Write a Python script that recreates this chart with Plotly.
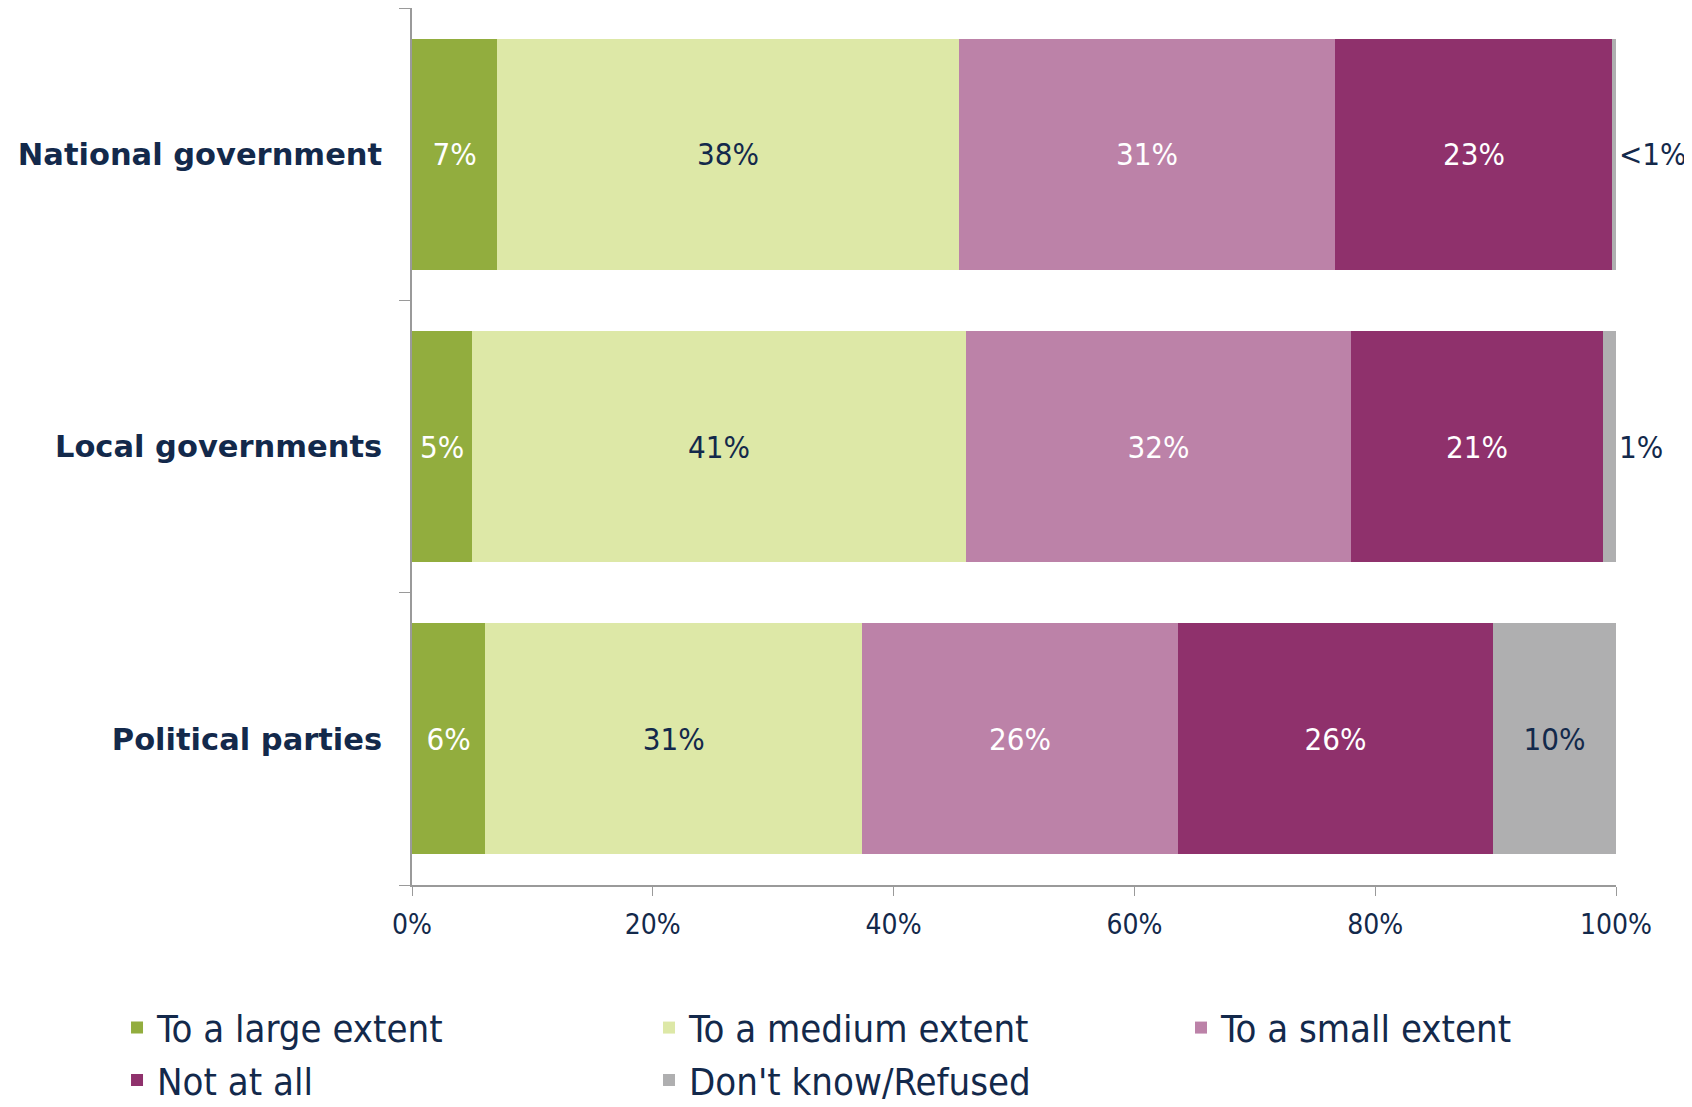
import plotly.graph_objects as go

categories = ["National government", "Local governments", "Political parties"]
series_names = ["To a large extent", "To a medium extent", "To a small extent",
                "Not at all", "Don't know/Refused"]
colors = ["#92AD3E", "#DDE8A7", "#BC82A8", "#8F316C", "#AFAFB0"]
text_colors = ["white", "#13294B", "white", "white", "#13294B"]

large = [7.1, 5.0, 6.1]
medium = [38.3, 41.0, 31.3]
small = [31.3, 32.0, 26.2]
not_at_all = [23.0, 20.9, 26.2]
dont_know = [0.3, 1.1, 10.2]

large_lbl = ["7%", "5%", "6%"]
medium_lbl = ["38%", "41%", "31%"]
small_lbl = ["31%", "32%", "26%"]
not_at_all_lbl = ["23%", "21%", "26%"]
dont_know_lbl = ["<1%", "1%", "10%"]

x_ticks = [0, 20, 40, 60, 80, 100]
x_tick_text = ["0%", "20%", "40%", "60%", "80%", "100%"]

values = [large, medium, small, not_at_all, dont_know]
labels = [large_lbl, medium_lbl, small_lbl, not_at_all_lbl, dont_know_lbl]

navy = "#13294B"
narrow = "DejaVu Sans Condensed, DejaVu Sans, sans-serif"

fig = go.Figure()
for i, name in enumerate(series_names):
    is_last = i == len(series_names) - 1
    fig.add_trace(go.Bar(
        y=categories,
        x=values[i],
        orientation="h",
        name=name,
        marker=dict(color=colors[i], line=dict(width=0)),
        text=labels[i],
        # tiny "don't know" shares get their label past the end of the bar
        textposition=["outside", "outside", "inside"] if is_last else "inside",
        insidetextanchor="middle",
        constraintext="none",
        cliponaxis=False,
        insidetextfont=dict(color=text_colors[i], size=31, family=narrow),
        outsidetextfont=dict(color=navy, size=31, family=narrow),
        hoverinfo="skip",
    ))

# the page body adds 8px around the figure, so the figure is 8px smaller
fig.update_layout(
    barmode="stack",
    bargap=0.21,
    width=1684,
    height=1099,
    margin=dict(l=404, r=76, t=0, b=222, autoexpand=False),
    plot_bgcolor="white",
    paper_bgcolor="white",
    font=dict(family=narrow, color=navy, size=28),
    showlegend=True,
    legend=dict(
        orientation="h",
        x=-0.245, xanchor="left",
        y=-0.127, yanchor="top",
        entrywidth=487, entrywidthmode="pixels",
        traceorder="normal",
        font=dict(size=38, family=narrow, color=navy),
        itemclick=False,
    ),
)

fig.update_xaxes(
    range=[0, 100],
    tickvals=x_ticks,
    ticktext=x_tick_text,
    showgrid=False,
    zeroline=False,
    showline=True,
    linecolor="#9A9A9A",
    linewidth=1.5,
    ticks="outside",
    ticklen=9,
    tickcolor="#9A9A9A",
    ticklabelstandoff=5,
    tickfont=dict(size=28, family=narrow, color=navy),
)

fig.update_yaxes(
    categoryorder="array",
    categoryarray=categories[::-1],
    showgrid=False,
    zeroline=False,
    showline=True,
    linecolor="#9A9A9A",
    linewidth=1.5,
    ticks="outside",
    tickson="boundaries",
    ticklen=11,
    tickcolor="#9A9A9A",
    ticklabelstandoff=22,
    tickfont=dict(size=30.5, family="DejaVu Sans", color=navy, weight="bold"),
)

fig.write_html("out.html")
